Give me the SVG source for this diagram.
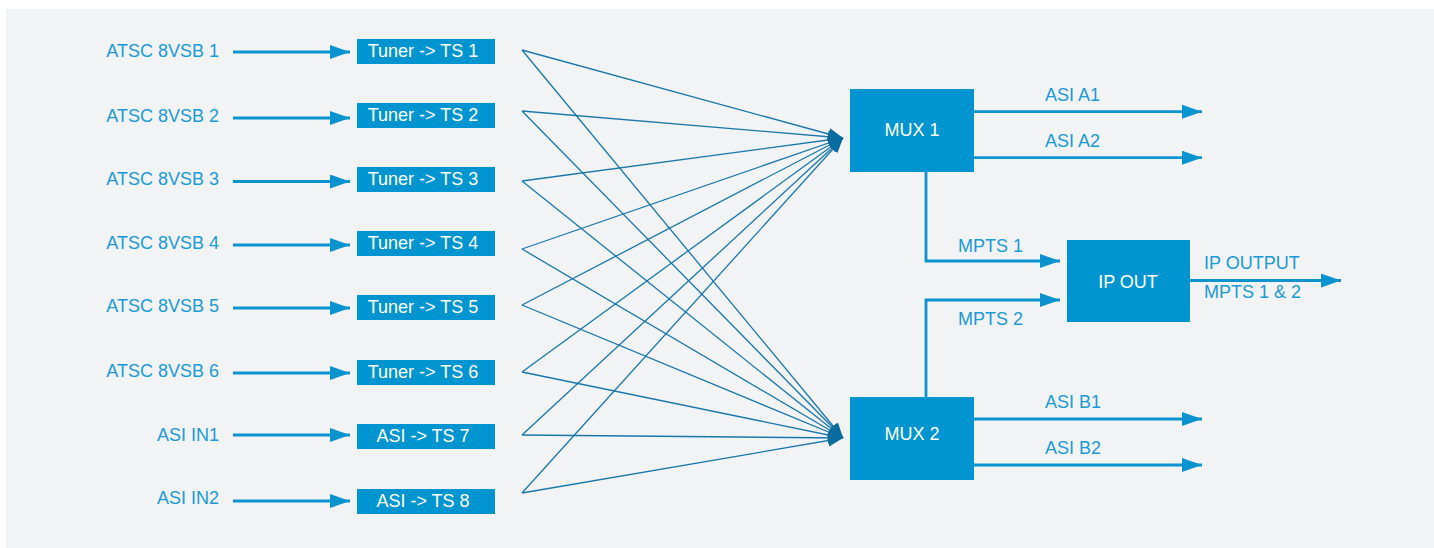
<svg xmlns="http://www.w3.org/2000/svg" width="1434" height="548" viewBox="0 0 1434 548">
<style>
.lbl{font-family:"Liberation Sans",Arial,sans-serif;font-size:18px;fill:#1a9ad6}
.r{text-anchor:end}
.bt{font-family:"Liberation Sans",Arial,sans-serif;font-size:18px;fill:#ffffff;text-anchor:middle}
.box{fill:#0095d0}
.thick{stroke:#0b93cf;stroke-width:2.8;fill:none}
.fan{stroke:#1a77aa;stroke-width:1.3;fill:none}
</style>
<defs>
<marker id="ah" markerUnits="userSpaceOnUse" markerWidth="22" markerHeight="16" refX="20" refY="7" orient="auto">
<path d="M0,0 L20,7 L0,14 z" fill="#0b93cf"/>
</marker>
<marker id="fh" markerUnits="userSpaceOnUse" markerWidth="16" markerHeight="13" refX="15" refY="6" orient="auto">
<path d="M0,0 L15,6 L0,12 z" fill="#0a6b9f"/>
</marker>
</defs>
<rect x="6" y="9" width="1428" height="539" fill="#f1f3f5"/>

<g id="connectors">
<line class="thick" x1="233" y1="52" x2="350" y2="52" marker-end="url(#ah)"/>
<line class="thick" x1="233" y1="118" x2="350" y2="118" marker-end="url(#ah)"/>
<line class="thick" x1="233" y1="181.5" x2="350" y2="181.5" marker-end="url(#ah)"/>
<line class="thick" x1="233" y1="245" x2="350" y2="245" marker-end="url(#ah)"/>
<line class="thick" x1="233" y1="308" x2="350" y2="308" marker-end="url(#ah)"/>
<line class="thick" x1="233" y1="373" x2="350" y2="373" marker-end="url(#ah)"/>
<line class="thick" x1="233" y1="435" x2="350" y2="435" marker-end="url(#ah)"/>
<line class="thick" x1="233" y1="501" x2="350" y2="501" marker-end="url(#ah)"/>

<g id="fan">
<line class="fan" x1="522" y1="50" x2="843" y2="138" marker-end="url(#fh)"/>
<line class="fan" x1="522" y1="111" x2="843" y2="138" marker-end="url(#fh)"/>
<line class="fan" x1="522" y1="181" x2="843" y2="138" marker-end="url(#fh)"/>
<line class="fan" x1="522" y1="249" x2="843" y2="138" marker-end="url(#fh)"/>
<line class="fan" x1="522" y1="305" x2="843" y2="138" marker-end="url(#fh)"/>
<line class="fan" x1="522" y1="372" x2="843" y2="138" marker-end="url(#fh)"/>
<line class="fan" x1="522" y1="435" x2="843" y2="138" marker-end="url(#fh)"/>
<line class="fan" x1="522" y1="493" x2="843" y2="138" marker-end="url(#fh)"/>
<line class="fan" x1="522" y1="50" x2="843" y2="438" marker-end="url(#fh)"/>
<line class="fan" x1="522" y1="111" x2="843" y2="438" marker-end="url(#fh)"/>
<line class="fan" x1="522" y1="181" x2="843" y2="438" marker-end="url(#fh)"/>
<line class="fan" x1="522" y1="249" x2="843" y2="438" marker-end="url(#fh)"/>
<line class="fan" x1="522" y1="305" x2="843" y2="438" marker-end="url(#fh)"/>
<line class="fan" x1="522" y1="372" x2="843" y2="438" marker-end="url(#fh)"/>
<line class="fan" x1="522" y1="435" x2="843" y2="438" marker-end="url(#fh)"/>
<line class="fan" x1="522" y1="493" x2="843" y2="438" marker-end="url(#fh)"/>
</g>

<line class="thick" x1="974" y1="111.7" x2="1202" y2="111.7" marker-end="url(#ah)"/>
<line class="thick" x1="974" y1="157.7" x2="1202" y2="157.7" marker-end="url(#ah)"/>
<polyline class="thick" points="926,172 926,261 1060,261" marker-end="url(#ah)"/>
<polyline class="thick" points="926,397 926,300 1060,300" marker-end="url(#ah)"/>
<line class="thick" x1="1190" y1="280.5" x2="1341" y2="280.5" marker-end="url(#ah)"/>
<line class="thick" x1="974" y1="419" x2="1202" y2="419" marker-end="url(#ah)"/>
<line class="thick" x1="974" y1="465" x2="1202" y2="465" marker-end="url(#ah)"/>

<text class="lbl" x="1045" y="101">ASI A1</text>
<text class="lbl" x="1045" y="147">ASI A2</text>
<text class="lbl" x="958" y="252">MPTS 1</text>
<text class="lbl" x="958" y="325">MPTS 2</text>
<text class="lbl" x="1204" y="269">IP OUTPUT</text>
<text class="lbl" x="1204" y="298">MPTS 1 &amp; 2</text>
<text class="lbl" x="1045" y="408">ASI B1</text>
<text class="lbl" x="1045" y="454">ASI B2</text>
</g>

<g id="in1"><text class="lbl r" x="219" y="57">ATSC 8VSB 1</text></g>
<g id="in2"><text class="lbl r" x="219" y="122">ATSC 8VSB 2</text></g>
<g id="in3"><text class="lbl r" x="219" y="185">ATSC 8VSB 3</text></g>
<g id="in4"><text class="lbl r" x="219" y="249">ATSC 8VSB 4</text></g>
<g id="in5"><text class="lbl r" x="219" y="312">ATSC 8VSB 5</text></g>
<g id="in6"><text class="lbl r" x="219" y="377">ATSC 8VSB 6</text></g>
<g id="in7"><text class="lbl r" x="219" y="441">ASI IN1</text></g>
<g id="in8"><text class="lbl r" x="219" y="504">ASI IN2</text></g>

<g id="ts1"><rect class="box" x="357" y="39" width="138" height="25"/><text class="bt" x="423" y="57">Tuner -&gt; TS 1</text></g>
<g id="ts2"><rect class="box" x="357" y="103" width="138" height="25"/><text class="bt" x="423" y="121">Tuner -&gt; TS 2</text></g>
<g id="ts3"><rect class="box" x="357" y="167" width="138" height="25"/><text class="bt" x="423" y="185">Tuner -&gt; TS 3</text></g>
<g id="ts4"><rect class="box" x="357" y="231" width="138" height="25"/><text class="bt" x="423" y="249">Tuner -&gt; TS 4</text></g>
<g id="ts5"><rect class="box" x="357" y="295" width="138" height="25"/><text class="bt" x="423" y="313">Tuner -&gt; TS 5</text></g>
<g id="ts6"><rect class="box" x="357" y="360" width="138" height="25"/><text class="bt" x="423" y="378">Tuner -&gt; TS 6</text></g>
<g id="ts7"><rect class="box" x="357" y="424" width="138" height="25"/><text class="bt" x="423" y="442">ASI -&gt; TS 7</text></g>
<g id="ts8"><rect class="box" x="357" y="489" width="138" height="25"/><text class="bt" x="423" y="507">ASI -&gt; TS 8</text></g>

<g id="mux1"><rect class="box" x="850" y="89" width="124" height="83"/><text class="bt" x="912" y="136">MUX 1</text></g>
<g id="mux2"><rect class="box" x="850" y="397" width="124" height="83"/><text class="bt" x="912" y="440">MUX 2</text></g>
<g id="ipout"><rect class="box" x="1067" y="240" width="123" height="82"/><text class="bt" x="1128" y="288">IP OUT</text></g>
</svg>
